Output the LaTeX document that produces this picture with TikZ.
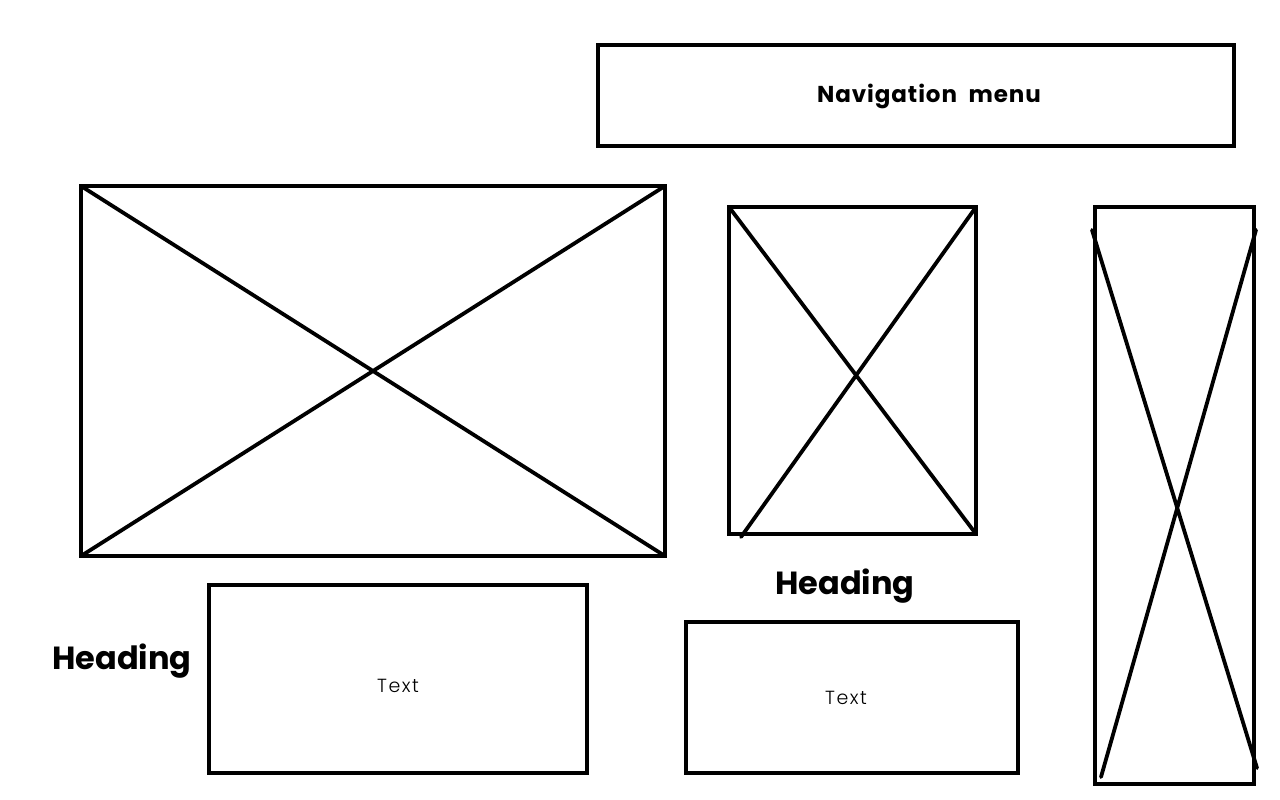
\documentclass[tikz,border=0pt]{standalone}
\usepackage{fontspec}
\setmainfont{Poppins}
\newfontfamily\headfont{Poppins}[UprightFont=* Bold]
\newfontfamily\navfont{Poppins}[UprightFont=* Bold,LetterSpace=4]
\newfontfamily\lightfont{Poppins}[UprightFont=* Light,LetterSpace=8]
\begin{document}
\begin{tikzpicture}[x=1pt,y=-1pt,
  frame/.style={draw=black,line width=3.8pt},
  cross/.style={draw=black,line width=3.8pt,line cap=round},
  headtext/.style={font=\headfont\fontsize{32}{36}\selectfont,inner sep=0pt},
  navtext/.style={font=\navfont\fontsize{23}{26}\selectfont,inner sep=0pt},
  bodytext/.style={font=\lightfont\fontsize{19}{22}\selectfont,inner sep=0pt}]
\useasboundingbox (0,0) rectangle (1280,800);
% navigation bar
\draw[frame] (598,45) rectangle (1234,146);
\node[navtext] (nav) at (929,96) {Navigation\hspace{0.25em} menu};
% large image placeholder
\coordinate (a1) at (81,186); \coordinate (a2) at (665,186);
\coordinate (a3) at (665,556); \coordinate (a4) at (81,556);
\draw[frame] (a1) rectangle (a3);
\draw[cross] (a1) -- (a3) (a2) -- (a4);
% medium image placeholder
\coordinate (b1) at (729,207); \coordinate (b2) at (976,207);
\coordinate (b3) at (976,534); \coordinate (b4) at (741,537);
\draw[frame] (b1) rectangle (b3);
\draw[cross] (b1) -- (b3) (b2) -- (b4);
% tall image placeholder
\draw[frame] (1095,207) rectangle (1254,784);
\coordinate (c1) at (1092,230); \coordinate (c2) at (1257,768);
\coordinate (c3) at (1256,230); \coordinate (c4) at (1101,777);
\draw[cross] (c1) -- (c2) (c3) -- (c4);
% text blocks
\draw[frame] (209,585) rectangle (587,773);
\node[bodytext] (t1) at (398,686) {Text};
\node[headtext] (h1) at (122,661) {Heading};
\draw[frame] (686,622) rectangle (1018,773);
\node[bodytext] (t2) at (846,698) {Text};
\node[headtext] (h2) at (845,586) {Heading};
\end{tikzpicture}
\end{document}
